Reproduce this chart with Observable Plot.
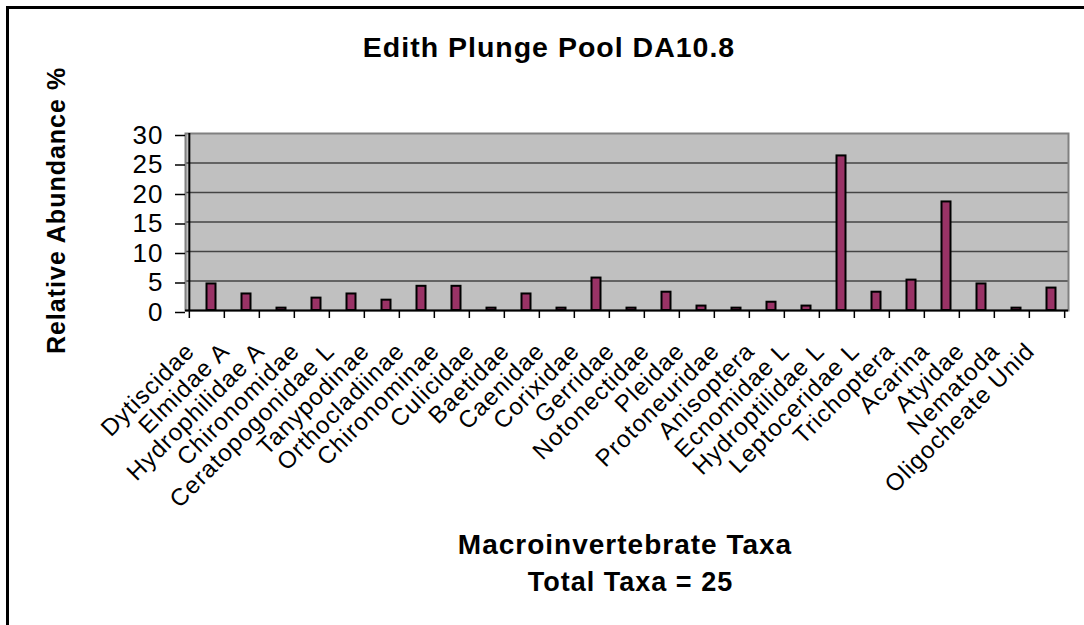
<!DOCTYPE html>
<html>
<head>
<meta charset="utf-8">
<script src="https://cdn.jsdelivr.net/npm/d3@7"></script>
<script src="https://cdn.jsdelivr.net/npm/@observablehq/plot@0.6"></script>
<style>
  html, body { margin: 0; padding: 0; background: #fff; }
  #wrap { position: relative; width: 1084px; height: 625px; overflow: hidden; background: #fff; }
  #border { position: absolute; left: 6px; top: 6px; width: 1200px; height: 800px;
            border-left: 3px solid #000; border-top: 3px solid #000; box-sizing: border-box; }
  #chart { position: absolute; left: 0; top: 0; }
  #chart svg text { letter-spacing: 1px; }
</style>
</head>
<body>
<div id="wrap"><div id="border"></div><div id="chart"></div></div>
<script>
const categories = ["Dytiscidae", "Elmidae A", "Hydrophilidae A", "Chironomidae", "Ceratopogonidae L",
  "Tanypodinae", "Orthocladiinae", "Chironominae", "Culicidae", "Baetidae", "Caenidae", "Corixidae",
  "Gerridae", "Notonectidae", "Pleidae", "Protoneuridae", "Anisoptera", "Ecnomidae L", "Hydroptilidae L",
  "Leptoceridae L", "Trichoptera", "Acarina", "Atyidae", "Nematoda", "Oligocheate Unid"];
const values = [4.5, 2.8, 0.4, 2.1, 2.8, 1.75, 4.1, 4.1, 0.4, 2.8, 0.4, 5.5, 0.4, 3.1, 0.75,
  0.4, 1.4, 0.75, 26.2, 3.1, 5.15, 18.4, 4.5, 0.4, 3.8];
const yTicks = [0, 5, 10, 15, 20, 25, 30];
const titleText = "Edith Plunge Pool DA10.8";
const yLabel = "Relative Abundance %";
const xLabel = "Macroinvertebrate Taxa";
const totalLabel = "Total Taxa = 25";

const data = categories.map((c, i) => ({taxon: c, value: values[i]}));

const W = 1084, H = 625, ML = 185, MR = 16, MT = 133, MB = 315;
const step = (W - ML - MR) / categories.length;
const font = "'Liberation Sans', Arial, sans-serif";

const chart = Plot.plot({
  width: W, height: H,
  marginLeft: ML, marginRight: MR, marginTop: MT, marginBottom: MB,
  style: {fontFamily: font, color: "#000", background: "transparent", overflow: "visible"},
  x: {domain: categories, padding: 0, axis: null},
  y: {domain: [0, 30], axis: null},
  marks: [
    Plot.frame({fill: "#c0c0c0"}),
    Plot.ruleY(yTicks.filter(t => t > 0 && t < 30), {stroke: "#444", strokeWidth: 1.5}),
    Plot.frame({stroke: "#808080", strokeWidth: 2}),
    Plot.barY(data, {x: "taxon", y: "value", fill: "#993366", stroke: "#000", strokeWidth: 2,
      insetLeft: 13, insetRight: 13, dx: 4.5}),
    Plot.ruleY([0], {stroke: "#000", strokeWidth: 2}),
    Plot.ruleX([categories[0]], {dx: -step / 2, stroke: "#000", strokeWidth: 2}),
    Plot.axisY(yTicks, {tickSize: 10, tickPadding: 12, fontSize: 26, label: null, dy: 2, strokeWidth: 1.5}),
    Plot.axisX(categories, {tickSize: 8, tickFormat: () => "", dx: -step / 2, label: null, strokeWidth: 1.5}),
    Plot.axisX([categories[categories.length - 1]], {tickSize: 8, tickFormat: () => "", dx: step / 2, label: null, strokeWidth: 1.5}),
    Plot.text(categories, {x: d => d, frameAnchor: "bottom", rotate: -45, textAnchor: "end",
      lineAnchor: "bottom", dx: -11, dy: 42, fontSize: 24, fill: "#000"}),
    Plot.text([titleText], {frameAnchor: "top", lineAnchor: "bottom", dx: -78, dy: -77,
      fontSize: 28.5, fontWeight: "bold", fill: "#000"}),
    Plot.text([yLabel], {frameAnchor: "left", rotate: -90, lineAnchor: "bottom", textAnchor: "middle",
      dx: -121, dy: -11.5, fontSize: 25, fontWeight: "bold", fill: "#000"}),
    Plot.text([xLabel], {frameAnchor: "bottom", lineAnchor: "bottom", dx: -2, dy: 243,
      fontSize: 28, fontWeight: "bold", fill: "#000"}),
    Plot.text([totalLabel], {frameAnchor: "bottom", lineAnchor: "bottom", dx: 3.5, dy: 280,
      fontSize: 27, fontWeight: "bold", fill: "#000"})
  ]
});
document.getElementById("chart").appendChild(chart);
</script>
</body>
</html>
